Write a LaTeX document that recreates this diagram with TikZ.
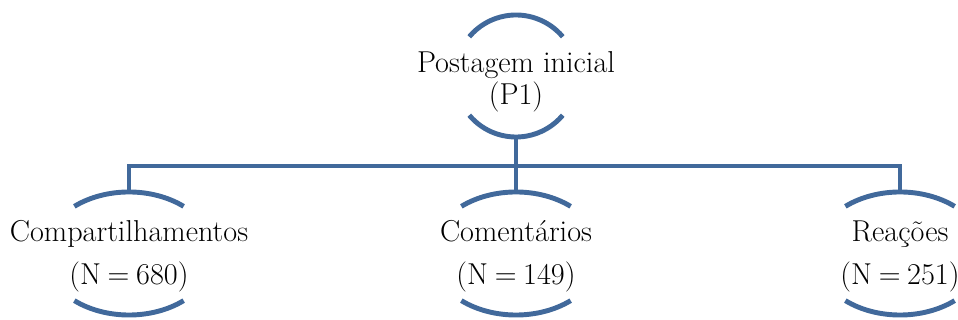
\documentclass[tikz,border=0pt]{standalone}
\usetikzlibrary{calc}
\definecolor{treeblue}{RGB}{65,105,155}
\newcommand\narrowspaces{\spaceskip=0.22em\relax}

\begin{document}
\begin{tikzpicture}[x=0.025cm,y=0.025cm,
		rim/.style={draw=treeblue,line width=3.5pt},
		link/.style={draw=treeblue,line width=3.5pt},
		rootbox/.style={inner sep=0pt,minimum height=3.05cm,text height=46pt,align=center,font=\fontsize{21.5}{22.7}\selectfont},
		leafbox/.style={inner sep=0pt,minimum height=3.075cm,text height=49pt,align=center,font=\fontsize{21.5}{30}\selectfont\narrowspaces}
		]
		\useasboundingbox (0,0) rectangle (958,320);
		
		% --- Nodes
		\node[rootbox] (post) at (516,244) {Postagem inicial\\(P1)};
		\node[leafbox] (shares) at (129,66.5) {Compartilhamentos\\(N = 680)};
		\node[leafbox] (comments) at (516,66.5) {Comentários\\(N = 149)};
		\node[leafbox] (reactions) at (900,66.5) {Reações\\(N = 251)};
		
		% --- Arcs round the root
		\draw[rim] ($(post.center)+(40:1.525cm)$) arc[start angle=40,end angle=140,radius=1.525cm];
		\draw[rim] ($(post.center)+(220:1.525cm)$) arc[start angle=220,end angle=320,radius=1.525cm];
		
		% --- Arcs round the leaves
		\foreach \n in {shares,comments,reactions}{
			\draw[rim] ($(\n.center)+(50:2.125cm and 1.5375cm)$) arc[start angle=50,end angle=130,x radius=2.125cm,y radius=1.5375cm];
			\draw[rim] ($(\n.center)+(230:2.125cm and 1.5375cm)$) arc[start angle=230,end angle=310,x radius=2.125cm,y radius=1.5375cm];
		}
		
		% --- Connectors
		\coordinate (bar) at (516,154);
		\draw[link] (post.south) -- (comments.north);
		\draw[link] (shares.north) |- (bar) -| (reactions.north);
		
	\end{tikzpicture}
\end{document}
